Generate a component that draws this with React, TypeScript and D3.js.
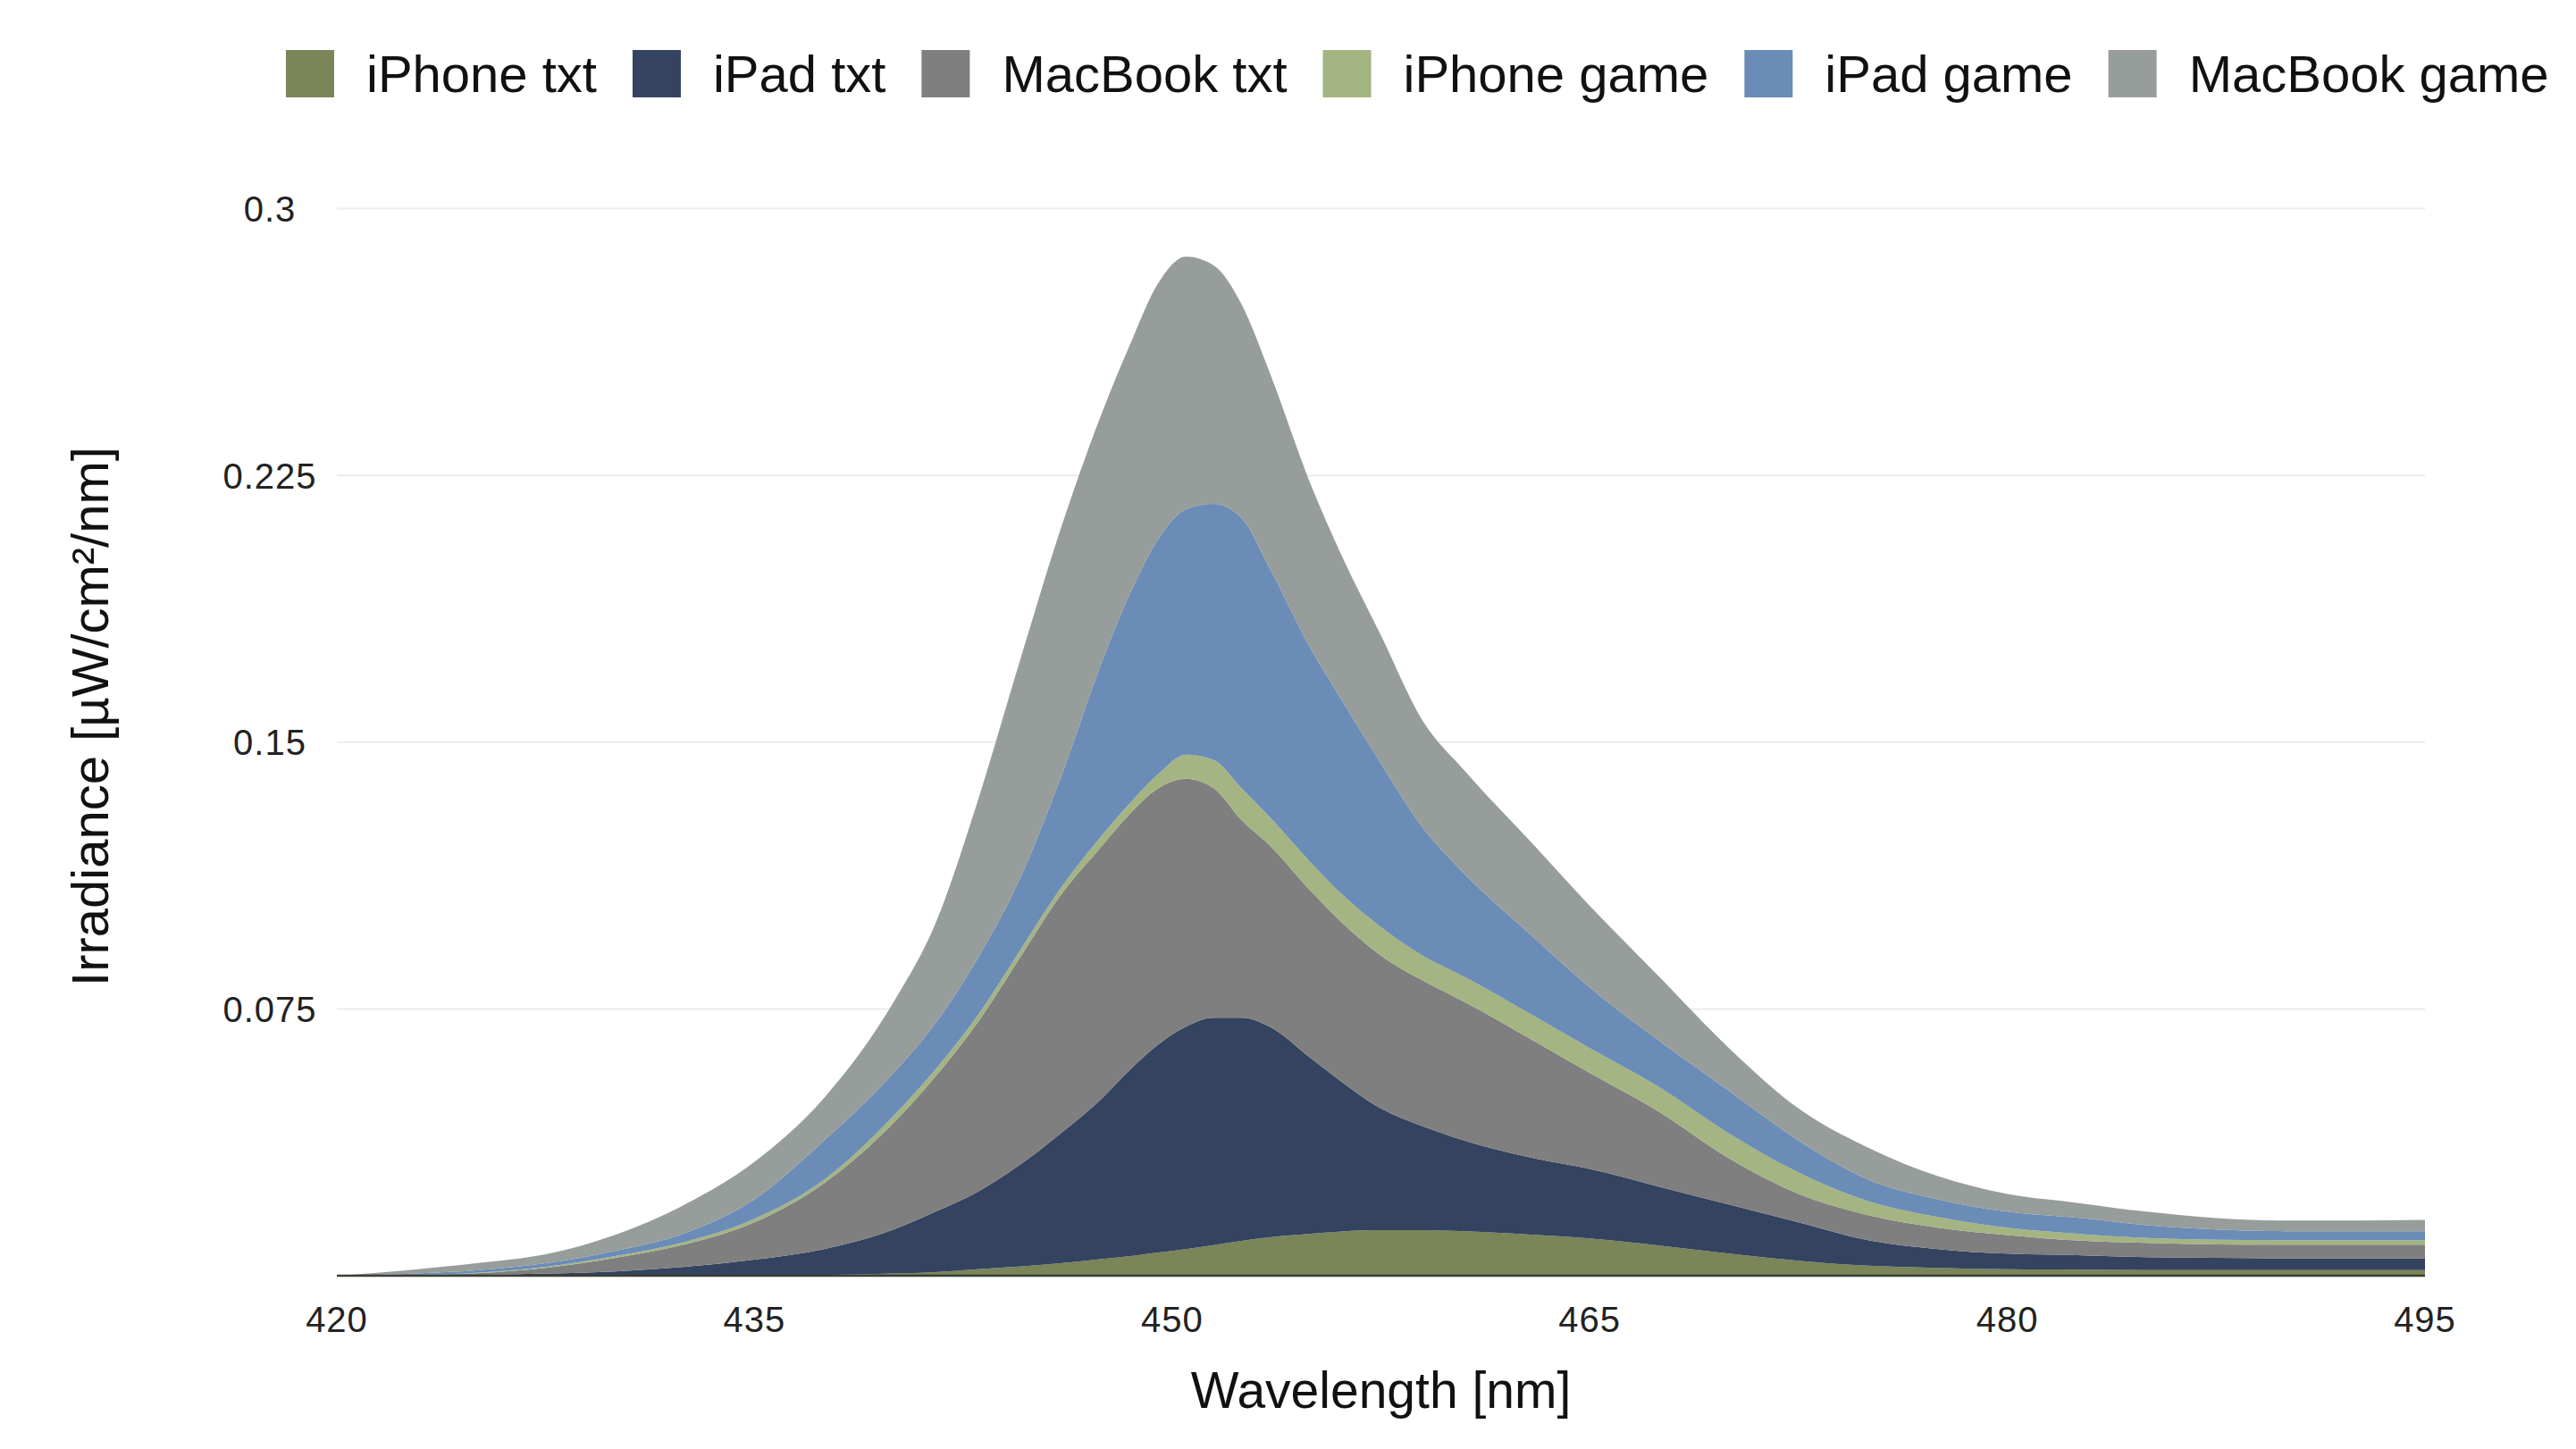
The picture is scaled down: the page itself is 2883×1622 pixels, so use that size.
import React, { useEffect, useRef } from "react";
import * as d3 from "d3";

// wavelength grid [nm]
const wavelengths = [
  420, 422.5, 425, 427.5, 430, 432.5, 435, 437.5, 440, 441.5, 443, 444.5, 446, 447.5, 448.5, 449.5,
  450.5, 451.5, 452.5, 453.5, 455, 456, 457.5, 459, 460.5, 463, 465, 467.5, 470, 472.5, 475, 477.5,
  480, 482.5, 485, 487.5, 490, 492.5, 495,
];

// irradiance per device [µW/cm²/nm]
const iphoneTxt = [
  0, 0, 0, 0, 0, 0, 0.0001, 0.0002, 0.0006, 0.001, 0.0018, 0.0026, 0.0035, 0.0047, 0.0055, 0.0065,
  0.0075, 0.0086, 0.0098, 0.0108, 0.0118, 0.0124, 0.0128, 0.0128, 0.0125, 0.0115, 0.0105, 0.0085,
  0.0062, 0.0042, 0.0028, 0.0022, 0.0018, 0.0017, 0.0016, 0.0016, 0.0016, 0.0016, 0.0016,
];
const ipadTxt = [
  0, 0.0001, 0.0002, 0.0006, 0.0012, 0.0025, 0.0044, 0.0073, 0.0124, 0.017, 0.0217, 0.0284, 0.0365,
  0.0453, 0.0525, 0.0585, 0.0625, 0.0639, 0.0627, 0.0592, 0.0492, 0.0426, 0.0342, 0.0292, 0.0255,
  0.0215, 0.0195, 0.0165, 0.0138, 0.0108, 0.0072, 0.0053, 0.0044, 0.0041, 0.0036, 0.0034, 0.0033,
  0.0033, 0.0033,
];
const macbookTxt = [
  0, 0.0001, 0.0005, 0.0016, 0.0038, 0.0063, 0.0105, 0.0185, 0.03, 0.038, 0.0475, 0.058, 0.067, 0.071,
  0.072, 0.072, 0.0697, 0.0645, 0.0555, 0.051, 0.047, 0.045, 0.043, 0.041, 0.039, 0.033, 0.027, 0.021,
  0.013, 0.008, 0.007, 0.006, 0.0052, 0.0041, 0.004, 0.0038, 0.0038, 0.0038, 0.0038,
];
const iphoneGame = [
  0, 0, 0.0001, 0.0003, 0.0005, 0.0007, 0.001, 0.001, 0.002, 0.002, 0.002, 0.002, 0.002, 0.003, 0.003,
  0.004, 0.0068, 0.008, 0.009, 0.008, 0.008, 0.008, 0.008, 0.007, 0.007, 0.007, 0.007, 0.007, 0.007,
  0.006, 0.004, 0.003, 0.0021, 0.0019, 0.0014, 0.0013, 0.0013, 0.0013, 0.0013,
];
const ipadGame = [
  0, 0.0003, 0.0007, 0.001, 0.0015, 0.0025, 0.0055, 0.011, 0.012, 0.013, 0.016, 0.02, 0.031, 0.049,
  0.059, 0.066, 0.069, 0.072, 0.076, 0.07, 0.06, 0.055, 0.046, 0.036, 0.029, 0.022, 0.017, 0.013,
  0.012, 0.009, 0.006, 0.005, 0.0045, 0.0045, 0.0036, 0.0029, 0.0025, 0.0025, 0.0025,
];
const macbookGame = [
  0, 0.001, 0.002, 0.0025, 0.0045, 0.008, 0.0105, 0.012, 0.02, 0.028, 0.044, 0.061, 0.07, 0.07,
  0.07, 0.072, 0.071, 0.067, 0.06, 0.055, 0.046, 0.041, 0.036, 0.03, 0.029, 0.026, 0.023, 0.018,
  0.012, 0.009, 0.009, 0.0065, 0.005, 0.0042, 0.0038, 0.0032, 0.003, 0.003, 0.0032,
];

const seriesNames = ["iPhone txt", "iPad txt", "MacBook txt", "iPhone game", "iPad game", "MacBook game"];
const seriesColors = ["#7a8558", "#34435f", "#7f7f7f", "#a4b482", "#6a8cb6", "#979d9b"];
const xTicks = [420, 435, 450, 465, 480, 495];
const yTicks = [0.075, 0.15, 0.225, 0.3];

const App = () => {
  const svgRef = useRef(null);

  useEffect(() => {
    const width = 2883;
    const height = 1620;
    const margin = { top: 233.5, right: 169, bottom: 192, left: 377 };
    const font = '"Liberation Sans", Arial, Helvetica, sans-serif';

    const svg = d3.select(svgRef.current);
    svg.selectAll("*").remove();

    const values = [iphoneTxt, ipadTxt, macbookTxt, iphoneGame, ipadGame, macbookGame];
    const rows = wavelengths.map((w, i) => {
      const r: any = { w };
      seriesNames.forEach((n, k) => (r[n] = values[k][i]));
      return r;
    });
    const stacked = d3.stack().keys(seriesNames)(rows);

    const x = d3.scaleLinear().domain([420, 495]).range([margin.left, width - margin.right]);
    const y = d3.scaleLinear().domain([0, 0.3]).range([height - margin.bottom, margin.top]);

    // gridlines
    svg
      .append("g")
      .selectAll("line")
      .data(yTicks)
      .join("line")
      .attr("x1", x(420))
      .attr("x2", x(495))
      .attr("y1", (d) => y(d))
      .attr("y2", (d) => y(d))
      .attr("stroke", "#ececec")
      .attr("stroke-width", 2);

    // stacked areas
    const area = d3
      .area()
      .x((d: any) => x(d.data.w))
      .y0((d: any) => y(d[0]))
      .y1((d: any) => y(d[1]))
      .curve(d3.curveMonotoneX);

    svg
      .append("g")
      .selectAll("path")
      .data(stacked)
      .join("path")
      .attr("fill", (d, i) => seriesColors[i])
      .attr("d", area as any);

    // baseline
    svg
      .append("line")
      .attr("x1", x(420))
      .attr("x2", x(495))
      .attr("y1", y(0))
      .attr("y2", y(0))
      .attr("stroke", "#3a3f33")
      .attr("stroke-width", 2.5);

    // y tick labels
    svg
      .append("g")
      .selectAll("text")
      .data(yTicks)
      .join("text")
      .attr("x", 302)
      .attr("y", (d) => y(d))
      .attr("dy", "0.36em")
      .attr("text-anchor", "middle")
      .attr("font-family", font)
      .attr("font-size", 40)
      .attr("letter-spacing", 1)
      .attr("fill", "#222")
      .text((d) => String(d));

    // x tick labels
    svg
      .append("g")
      .selectAll("text")
      .data(xTicks)
      .join("text")
      .attr("x", (d) => x(d))
      .attr("y", y(0) + 63)
      .attr("text-anchor", "middle")
      .attr("font-family", font)
      .attr("font-size", 40)
      .attr("letter-spacing", 1)
      .attr("fill", "#222")
      .text((d) => String(d));

    // axis titles
    svg
      .append("text")
      .attr("x", (x(420) + x(495)) / 2)
      .attr("y", 1576)
      .attr("text-anchor", "middle")
      .attr("font-family", font)
      .attr("font-size", 57)
      .attr("fill", "#111")
      .text("Wavelength [nm]");

    svg
      .append("text")
      .attr("transform", "translate(121, 802) rotate(-90)")
      .attr("text-anchor", "middle")
      .attr("font-family", font)
      .attr("font-size", 58)
      .attr("fill", "#111")
      .text("Irradiance [µW/cm²/nm]");

    // legend
    const legend = svg.append("g");
    let lx = 320;
    seriesNames.forEach((name, i) => {
      legend
        .append("rect")
        .attr("x", lx)
        .attr("y", 56)
        .attr("width", 54)
        .attr("height", 53)
        .attr("fill", seriesColors[i]);
      const t = legend
        .append("text")
        .attr("x", lx + 90)
        .attr("y", 103)
        .attr("font-family", font)
        .attr("font-size", 58)
        .attr("fill", "#111")
        .text(name);
      const w = (t.node() as SVGTextElement).getComputedTextLength();
      lx += 90 + w + 40;
    });
  }, []);

  return (
    <svg
      ref={svgRef}
      width={2883}
      height={1620}
      style={{ position: "absolute", left: 0, top: 0, background: "#fff" }}
    ></svg>
  );
};

export default App;
